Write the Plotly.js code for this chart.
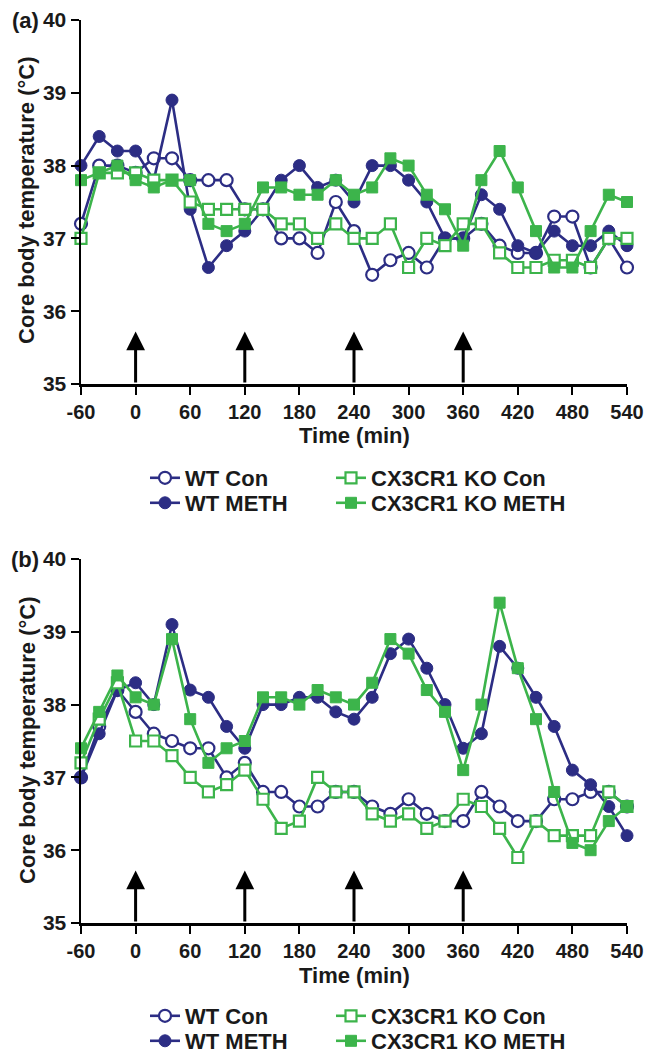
<!DOCTYPE html>
<html>
<head>
<meta charset="utf-8">
<script src="https://cdn.plot.ly/plotly-3.0.1.min.js"></script>
<style>
  html, body { margin: 0; padding: 0; background: #ffffff; }
  #chart { width: 652px; height: 1056px; }
</style>
</head>
<body>
<div id="chart"></div>
<script>
// ---- Data ----
const timeMin = [-60, -40, -20, 0, 20, 40, 60, 80, 100, 120, 140, 160, 180, 200, 220, 240,
                 260, 280, 300, 320, 340, 360, 380, 400, 420, 440, 460, 480, 500, 520, 540];
const xTickVals = [-60, 0, 60, 120, 180, 240, 300, 360, 420, 480, 540];
const yTickVals = [35, 36, 37, 38, 39, 40];
const injectionTimes = [0, 120, 240, 360];
const seriesNames = ["WT Con", "WT METH", "CX3CR1 KO Con", "CX3CR1 KO METH"];
const panelLabels = ["(a)", "(b)"];
const xTitle = "Time (min)";
const yTitle = "Core body temperature (°C)";

// Panel (a)
const aWtCon   = [37.2, 38.0, 38.0, 37.9, 38.1, 38.1, 37.8, 37.8, 37.8, 37.4, 37.4, 37.0, 37.0, 36.8, 37.5, 37.1,
                  36.5, 36.7, 36.8, 36.6, 37.0, 37.0, 37.2, 36.9, 36.8, 36.8, 37.3, 37.3, 36.6, 37.0, 36.6];
const aWtMeth  = [38.0, 38.4, 38.2, 38.2, 37.8, 38.9, 37.4, 36.6, 36.9, 37.1, 37.4, 37.8, 38.0, 37.7, 37.8, 37.5,
                  38.0, 38.0, 37.8, 37.5, 37.0, 37.0, 37.6, 37.4, 36.9, 36.8, 37.1, 36.9, 36.9, 37.1, 36.9];
const aKoCon   = [37.0, 37.9, 37.9, 37.9, 37.8, 37.8, 37.5, 37.4, 37.4, 37.4, 37.4, 37.2, 37.2, 37.0, 37.2, 37.0,
                  37.0, 37.2, 36.6, 37.0, 36.9, 37.2, 37.2, 36.8, 36.6, 36.6, 36.7, 36.7, 36.6, 37.0, 37.0];
const aKoMeth  = [37.8, 37.9, 38.0, 37.8, 37.7, 37.8, 37.8, 37.2, 37.1, 37.2, 37.7, 37.7, 37.6, 37.6, 37.8, 37.6,
                  37.7, 38.1, 38.0, 37.6, 37.4, 36.9, 37.8, 38.2, 37.7, 37.1, 36.6, 36.6, 37.1, 37.6, 37.5];

// Panel (b)
const bWtCon   = [37.0, 37.7, 38.2, 37.9, 37.6, 37.5, 37.4, 37.4, 37.0, 37.2, 36.8, 36.8, 36.6, 36.6, 36.8, 36.8,
                  36.6, 36.5, 36.7, 36.5, 36.4, 36.4, 36.8, 36.6, 36.4, 36.4, 36.7, 36.7, 36.8, 36.8, 36.6];
const bWtMeth  = [37.0, 37.6, 38.2, 38.3, 38.0, 39.1, 38.2, 38.1, 37.7, 37.4, 38.0, 38.0, 38.1, 38.1, 37.9, 37.8,
                  38.1, 38.7, 38.9, 38.5, 38.0, 37.4, 37.6, 38.8, 38.5, 38.1, 37.7, 37.1, 36.9, 36.6, 36.2];
const bKoCon   = [37.2, 37.8, 38.3, 37.5, 37.5, 37.3, 37.0, 36.8, 36.9, 37.1, 36.7, 36.3, 36.4, 37.0, 36.8, 36.8,
                  36.5, 36.4, 36.5, 36.3, 36.4, 36.7, 36.6, 36.3, 35.9, 36.4, 36.2, 36.2, 36.2, 36.8, 36.6];
const bKoMeth  = [37.4, 37.9, 38.4, 38.1, 38.0, 38.9, 37.8, 37.2, 37.4, 37.5, 38.1, 38.1, 38.0, 38.2, 38.1, 38.0,
                  38.3, 38.9, 38.7, 38.2, 37.9, 37.1, 38.0, 39.4, 38.5, 37.8, 36.8, 36.1, 36.0, 36.4, 36.6];

// ---- Styling ----
const NAVY = "#2c2d84";
const GREEN = "#3cb44b";
const FONT = "Liberation Sans, Arial, Helvetica, sans-serif";
const TXT = "#1a1a1a";

function mk(name, y, xa, ya, leg, color, symbol, hollow) {
  return {
    type: "scatter", mode: "lines+markers", name: name,
    x: timeMin, y: y, xaxis: xa, yaxis: ya, legend: leg,
    cliponaxis: false,
    line: { color: color, width: 2.6 },
    marker: {
      symbol: symbol, size: symbol === "circle" ? 12 : 11,
      color: hollow ? "#ffffff" : color,
      line: { color: color, width: hollow ? 2.2 : 1 }
    }
  };
}

const traces = [
  mk(seriesNames[0], aWtCon,  "x",  "y",  "legend",  NAVY,  "circle", true),
  mk(seriesNames[1], aWtMeth, "x",  "y",  "legend2", NAVY,  "circle", false),
  mk(seriesNames[2], aKoCon,  "x",  "y",  "legend3", GREEN, "square", true),
  mk(seriesNames[3], aKoMeth, "x",  "y",  "legend4", GREEN, "square", false),
  mk(seriesNames[0], bWtCon,  "x2", "y2", "legend5", NAVY,  "circle", true),
  mk(seriesNames[1], bWtMeth, "x2", "y2", "legend6", NAVY,  "circle", false),
  mk(seriesNames[2], bKoCon,  "x2", "y2", "legend7", GREEN, "square", true),
  mk(seriesNames[3], bKoMeth, "x2", "y2", "legend8", GREEN, "square", false)
];

function xAxis(anchor) {
  return {
    anchor: anchor, range: [-60, 540], showgrid: false, zeroline: false,
    showline: true, linecolor: "#000", linewidth: 2.5,
    ticks: "outside", ticklen: 8, tickwidth: 2, tickcolor: "#000",
    tickmode: "array", tickvals: xTickVals, ticktext: xTickVals.map(String),
    tickfont: { family: FONT, size: 20, color: TXT, weight: "bold" },
    title: { text: "" },
    automargin: false, fixedrange: true
  };
}
function yAxis(anchor, domain) {
  return {
    anchor: anchor, domain: domain, range: [35, 40], showgrid: false, zeroline: false,
    showline: true, linecolor: "#000", linewidth: 2.5,
    ticks: "outside", ticklen: 8, tickwidth: 2, tickcolor: "#000",
    tickmode: "array", tickvals: yTickVals, ticktext: yTickVals.map(String),
    tickfont: { family: FONT, size: 21, color: TXT, weight: "bold" },
    title: { text: "" },
    automargin: false, fixedrange: true
  };
}

function legendAt(xPx, midPx) {
  return {
    xref: "container", yref: "container",
    x: xPx / 652, y: 1 - midPx / 1056, xanchor: "left", yanchor: "middle",
    orientation: "v", bgcolor: "rgba(0,0,0,0)", borderwidth: 0,
    tracegroupgap: 0, itemwidth: 30,
    font: { family: FONT, size: 22, color: TXT, weight: "bold" }
  };
}

// pixel helpers for paper coordinates (plot area: x 81..627, y 20..923)
const pxX = function (px) { return (px - 81) / 546; };
const pxY = function (py) { return (923 - py) / 903; };

const annotations = [];
const axesPairs = [["x", "y"], ["x2", "y2"]];
axesPairs.forEach(function (p) {
  injectionTimes.forEach(function (t) {
    annotations.push({
      xref: p[0], yref: p[1], axref: p[0], ayref: p[1],
      x: t, y: 35.72, ax: t, ay: 35,
      text: "", showarrow: true, arrowhead: 2, arrowsize: 1.25, arrowwidth: 3,
      arrowcolor: "#000", standoff: 0, startstandoff: 0
    });
  });
});
const titleFont = { family: FONT, size: 22, color: TXT, weight: "bold" };
const panelTopPx = [20, 559];
const xTitlePx = [435, 975];
const yTitleMidPx = [200, 740];
panelLabels.forEach(function (lab, i) {
  annotations.push({
    xref: "paper", yref: "paper", x: pxX(25), y: pxY(panelTopPx[i]),
    xanchor: "center", yanchor: "middle", showarrow: false, text: lab, font: titleFont
  });
  annotations.push({
    xref: "paper", yref: "paper", x: 0.5, y: pxY(xTitlePx[i]),
    xanchor: "center", yanchor: "middle", showarrow: false, text: xTitle, font: titleFont
  });
  annotations.push({
    xref: "paper", yref: "paper", x: pxX(27), y: pxY(yTitleMidPx[i]),
    xanchor: "center", yanchor: "middle", showarrow: false, text: yTitle, textangle: -90, font: titleFont
  });
});

const layout = {
  width: 652, height: 1056,
  margin: { l: 81, r: 25, t: 20, b: 133, autoexpand: false },
  paper_bgcolor: "#ffffff", plot_bgcolor: "#ffffff",
  font: { family: FONT, size: 20, color: TXT, weight: "bold" },
  showlegend: true,
  xaxis: xAxis("y"),
  yaxis: yAxis("x", [pxY(384), 1]),
  xaxis2: xAxis("y2"),
  yaxis2: yAxis("x2", [0, pxY(559)]),
  legend:  legendAt(145, 478),
  legend2: legendAt(145, 503),
  legend3: legendAt(331, 478),
  legend4: legendAt(331, 503),
  legend5: legendAt(145, 1016),
  legend6: legendAt(145, 1041),
  legend7: legendAt(331, 1016),
  legend8: legendAt(331, 1041),
  annotations: annotations
};

Plotly.newPlot("chart", traces, layout, { staticPlot: true, displayModeBar: false });
</script>
</body>
</html>
